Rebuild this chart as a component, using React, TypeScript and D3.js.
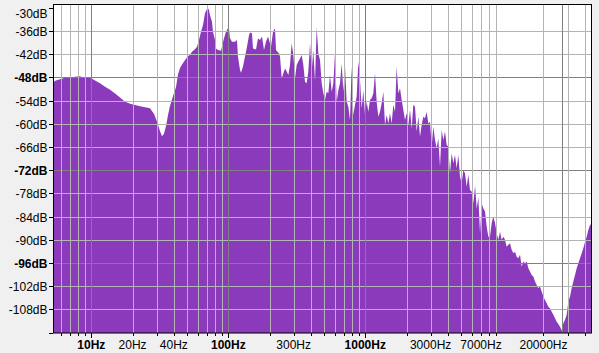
import React from "react";
import * as d3 from "d3";

const WIDTH = 599;
const HEIGHT = 353;

// Spectrum: [frequency in Hz, level in dB]
const lowBand: [number, number][] = [
  [5.25, -49.2], [5.52, -48.8], [5.91, -48.5], [6.43, -48.1], [6.99, -48], [8.13, -47.7],
  [9.0, -48], [10, -48.2], [10.64, -48.8], [11.57, -49.5], [12.59, -50.4], [13.7, -51.2],
  [14.9, -52.2], [16.2, -53.2], [17.6, -54.3], [19.2, -54.8], [22.7, -55.5], [26.8, -56],
  [28.7, -57.5], [30.2, -59.5], [31.7, -61.9], [32.8, -63.2], [33.9, -62.6], [35.1, -60.6],
  [36.3, -57.7], [37.5, -55.4], [39.5, -52.8], [41.5, -50.5], [43, -47.1], [44.4, -45.6],
  [46.7, -44.3], [49.1, -43.2], [50.8, -42.5], [52.5, -42.2], [54.3, -41.4], [57.1, -40.7],
  [59.1, -40.1], [61.1, -38.3], [63.2, -36.2], [65.4, -34.4], [67.6, -31.4], [69.9, -30.3],
  [71.1, -30.1], [72.3, -30.6], [73.5, -31.9], [76, -33.6], [77.3, -36.2], [80, -38.3],
  [81.3, -40.5], [84.1, -40.9], [88.5, -41.1], [89.9, -40.1], [93, -37.9], [96.2, -36.2],
  [99.5, -35.3],
];

const midBand: [number, number][] = [
  [101.2, -35.5], [102.9, -37.9], [106.4, -38.8], [111.9, -38.8], [115.7, -38.3], [117.6, -42.6],
  [121.8, -46.1], [123.8, -46.8], [128, -45.2], [132.4, -42.6], [136.9, -40.1], [141.6, -37.1],
  [144, -36.4], [148.9, -36.6], [151.4, -40.5], [159.3, -40.8], [164.8, -37.9], [170.4, -38.3],
  [176.2, -37.4], [182.2, -40.9], [188.5, -38.8], [194.9, -37.4], [205, -40.1], [212.1, -36.2],
  [219.3, -35.3], [222.9, -40.9], [234.5, -41.8],
];

const upperBand: [number, number][] = [
  [238.5, -42.6], [245.3, -48.2], [252.2, -46.9], [259.4, -45.7], [266.8, -46.5], [274.3, -47.4],
  [282.1, -44.8], [290.1, -39.2], [298.4, -42.2], [306.9, -48.2], [315.6, -44.8], [324.5, -43.9],
  [333.8, -43.1], [343.2, -42.2], [353.0, -44.8], [363.0, -49.1], [373.3, -49.5], [383.9, -46.5],
  [394.9, -39.2], [406.1, -46.5], [417.6, -40.9], [429.5, -49.1], [441.7, -34.9], [454.2, -41.8],
  [467.1, -43.5], [480.4, -49.5], [494.1, -52.1], [508.1, -53.8], [522.5, -51.7], [537.4, -52.1],
  [552.6, -47.4], [568.3, -51.7], [584.5, -49.5], [601.1, -41.8], [618.1, -54.3], [635.7, -51.3],
  [653.8, -49.5], [672.3, -44.4], [691.4, -51.7], [711.1, -45.2], [731.3, -54.3], [752.1, -55.6],
  [773.4, -59.0], [795.4, -45.2], [818.0, -57.7], [841.2, -55.1], [865.1, -53.0], [889.7, -43.9],
  [915.0, -48.7], [941.0, -56.0], [967.7, -51.3], [995.2, -57.7], [1023.5, -54.3], [1052.6, -56.9],
  [1082.5, -53.8], [1113.3, -53.4], [1144.9, -52.1], [1177.4, -46.9], [1210.9, -54.3], [1245.3, -58.2],
  [1280.6, -56.9], [1317.0, -54.7], [1354.4, -51.7], [1392.9, -60.3], [1432.5, -57.7], [1473.2, -59.9],
  [1515.1, -57.3], [1558.1, -59.9], [1602.4, -55.1], [1647.9, -56.9], [1694.7, -45.2], [1742.9, -52.1],
  [1792.4, -50.8], [1843.3, -53.8], [1895.7, -56.4], [1949.6, -59.0], [2005.0, -57.3], [2061.9, -60.3],
  [2120.5, -56.4], [2180.8, -61.2], [2242.7, -55.1], [2306.4, -55.6], [2372.0, -62.0], [2439.4, -58.2],
  [2508.7, -63.3], [2580.0, -60.3], [2653.3, -58.2], [2728.7, -58.6], [2806.2, -56.9], [2886.0, -59.9],
  [2968.0, -59.5], [3052.3, -65.9], [3139.0, -60.7], [3228.2, -64.2], [3319.9, -66.3], [3414.2, -63.8],
  [3511.2, -71.1], [3611.0, -61.6], [3713.6, -64.2], [3819.1, -62.0], [3927.6, -65.5], [4039.2, -65.9],
  [4154.0, -72.8], [4272.0, -67.6], [4393.4, -70.2], [4518.2, -68.1], [4646.6, -71.5], [4778.6, -68.1],
  [4914.4, -73.7], [5054.0, -75.4], [5197.6, -72.0], [5345.3, -72.8], [5497.2, -76.3], [5653.4, -73.2],
  [5814.0, -77.1], [5980, -77.5], [6150, -80.5], [6330, -76], [6510, -82], [6690, -79],
];

const highBand: [number, number][] = [
  [6880, -88.3], [7075, -80.6], [7276, -81.9], [7483, -82.7], [7696, -86.6], [7914, -89.2],
  [8139, -89.2], [8370, -85.7], [8608, -84.0], [8853, -85.7], [9104, -88.3], [9363, -90.0],
  [9629, -87.9], [9902, -90.0], [10183, -89.2], [10473, -90.0], [10770, -91.8], [11076, -91.3],
  [11391, -90.9], [11715, -92.6], [12048, -93.5], [12390, -93.1], [12742, -94.4], [13104, -94.8],
  [13476, -93.9], [13859, -96.9], [14253, -95.6], [14658, -96.1], [15074, -95.6], [15503, -97.4],
  [15943, -98.2], [16396, -99.1], [16862, -99.5], [17341, -100.8], [17834, -101.7], [18341, -102.5],
  [18862, -102.1], [19398, -103.4], [19949, -104.7], [20516, -105.6], [21099, -106.4], [21699, -107.3],
  [22315, -107.7], [22949, -108.6], [23601, -109.4], [24272, -110.3], [24962, -111.2], [25671, -111.8],
  [26400, -112.5], [27150, -113.5], [27922, -111.6], [28715, -110.7], [29531, -109.4], [30370, -106.0],
  [31233, -104.7], [32121, -102.5], [33034, -100.8], [33972, -99.1], [34937, -97.4], [35930, -96.1],
  [36951, -94.8], [38001, -93.5], [39081, -92.2], [40191, -90.5], [41333, -89.2], [42508, -87.5],
  [43716, -86.2], [44958, -85.9], [45200, -85.9],
];

const dbTicks = [-30, -36, -42, -48, -54, -60, -66, -72, -78, -84, -90, -96, -102, -108, -114];
const dbLabels = [-30, -36, -42, -48, -54, -60, -66, -72, -78, -84, -90, -96, -102, -108];
const dbGrid = [-36, -42, -48, -54, -60, -66, -72, -78, -84, -90, -96, -102, -108];
const dbMajor = [-48, -72, -96];

const hzGrid = [
  6, 7, 8, 9, 10, 20, 30, 40, 50, 60, 70, 80, 90, 100, 200, 300, 400, 500, 600, 700, 800, 900,
  1000, 2000, 3000, 4000, 5000, 6000, 7000, 8000, 9000, 20000, 30000, 40000,
];
const hzMajor = [10, 100, 1000];
const hzLabels = [10, 20, 40, 100, 300, 1000, 3000, 7000, 20000];
const cursorHz = 27150;

const FONT = "'Liberation Sans', Arial, sans-serif";

export default function App() {
  const left = 53, right = 592, top = 4.7, bottom = 333.3;
  const x = d3.scaleLog().domain([5.25, 45200]).range([left, right]);
  const y = d3.scaleLinear().domain([-114.2, -29.2]).range([bottom, top]);

  const data = [...lowBand, ...midBand, ...upperBand, ...highBand];
  const area = d3
    .area<[number, number]>()
    .x((d) => x(d[0]))
    .y0(bottom)
    .y1((d) => y(d[1]))
    .curve(d3.curveLinear);

  const crisp = (v: number) => Math.round(v) + 0.5;

  return (
    <svg
      width={WIDTH}
      height={HEIGHT}
      style={{ position: "absolute", left: 0, top: 0, display: "block" }}
    >
      <rect x={0} y={0} width={WIDTH} height={HEIGHT} fill="#f0f0f0" />
      <defs>
        <clipPath id="plotClip">
          <rect x={left} y={top} width={right - left} height={bottom - top} />
        </clipPath>
      </defs>
      <rect x={left} y={top} width={right - left} height={bottom - top} fill="#ffffff" />
      <g clipPath="url(#plotClip)">
        <path d={area(data) || ""} fill="#8a3abb" />
        {dbGrid.map((v) => (
          <line
            key={"hg" + v}
            x1={left}
            x2={right}
            y1={crisp(y(v))}
            y2={crisp(y(v))}
            stroke={dbMajor.includes(v) ? "#808080" : "#b4b4b4"}
            strokeWidth={1}
          />
        ))}
        {hzGrid.map((v) => (
          <line
            key={"vg" + v}
            x1={crisp(x(v))}
            x2={crisp(x(v))}
            y1={top}
            y2={bottom}
            stroke={hzMajor.includes(v) ? "#808080" : "#b4b4b4"}
            strokeWidth={1}
          />
        ))}
        <line
          x1={crisp(x(cursorHz))}
          x2={crisp(x(cursorHz))}
          y1={top}
          y2={bottom}
          stroke="#808080"
          strokeWidth={1}
        />
      </g>
      <rect
        x={left + 0.5}
        y={4.5}
        width={right - left - 1}
        height={328.5}
        fill="none"
        stroke="#000"
        strokeWidth={1}
      />
      {/* Y axis ticks and labels */}
      {dbTicks.map((v) => (
        <line
          key={"yt" + v}
          x1={49}
          x2={53}
          y1={crisp(y(v))}
          y2={crisp(y(v))}
          stroke="#000"
        />
      ))}
      {dbLabels.map((v) => (
        <text
          key={"yl" + v}
          x={47.5}
          y={Math.max(y(v), 13) + 5}
          textAnchor="end"
          fontFamily={FONT}
          fontSize={12}
          fontWeight={dbMajor.includes(v) ? "bold" : "normal"}
          fill="#000"
        >
          {`${v}dB`}
        </text>
      ))}
      {/* X axis ticks and labels */}
      {hzGrid.map((v) => (
        <line
          key={"xt" + v}
          x1={crisp(x(v))}
          x2={crisp(x(v))}
          y1={333}
          y2={hzMajor.includes(v) ? 338 : 336}
          stroke="#000"
        />
      ))}
      {hzLabels.map((v) => (
        <text
          key={"xl" + v}
          x={x(v)}
          y={348.5}
          textAnchor="middle"
          fontFamily={FONT}
          fontSize={12}
          fontWeight={hzMajor.includes(v) ? "bold" : "normal"}
          fill="#000"
        >
          {`${v}Hz`}
        </text>
      ))}
    </svg>
  );
}
